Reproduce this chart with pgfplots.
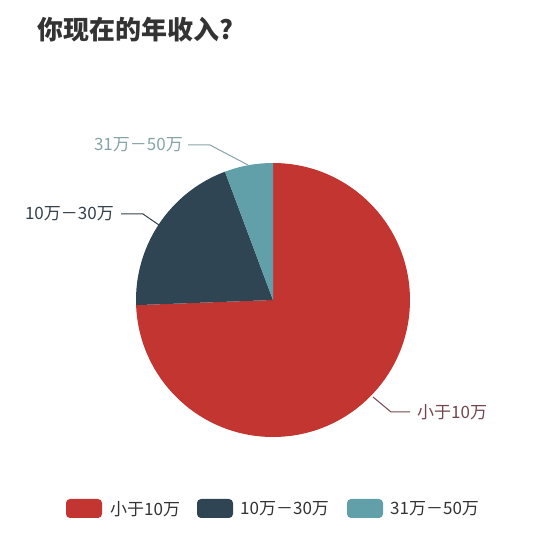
\documentclass[border=0pt]{standalone}
\usepackage{pgfplots}
\pgfplotsset{compat=1.18}
\usepackage{fontspec}
\setmainfont{Noto Sans CJK SC}
\definecolor{pieRed}{HTML}{C23531}
\definecolor{pieDark}{HTML}{2F4554}
\definecolor{pieTeal}{HTML}{61A0A8}
\definecolor{txt}{HTML}{333333}
\definecolor{lblRed}{HTML}{74464F}
\definecolor{lblDark}{HTML}{34414B}
\definecolor{lblTeal}{HTML}{86A4A7}

\begin{document}
\begin{tikzpicture}
% shares in percent, clockwise from 12 o'clock
\def\vA{74.4}  % 小于10万
\def\vB{19.9}  % 10万－30万
\def\vC{5.7}   % 31万－50万
\pgfmathsetmacro{\aA}{90-3.6*\vA}
\pgfmathsetmacro{\aB}{\aA-3.6*\vB}
\pgfmathsetmacro{\aC}{\aB-3.6*\vC}
\begin{axis}[
    width=550pt, height=536pt,
    scale only axis,
    xmin=0, xmax=550, ymin=0, ymax=536,
    axis lines=none,
    clip=false,
]
\path (axis cs:0,0) rectangle (axis cs:550,536);
% wedges
\fill[pieRed]  (axis cs:273,236) -- ++(90:137pt) arc[start angle=90, end angle=\aA, radius=137pt] -- cycle;
\fill[pieDark] (axis cs:273,236) -- ++(\aA:137pt) arc[start angle=\aA, end angle=\aB, radius=137pt] -- cycle;
\fill[pieTeal] (axis cs:273,236) -- ++(\aB:137pt) arc[start angle=\aB, end angle=\aC, radius=137pt] -- cycle;
% title
\node[anchor=west, inner sep=0pt, text=txt, font=\fontsize{26}{30}\selectfont\bfseries] at (axis cs:37,506) {你现在的年收入?};
% labels with leader lines
\draw[lblTeal, line width=1pt] (axis cs:248,371) -- (axis cs:210,391) -- (axis cs:188,391);
\node[anchor=east, inner sep=0pt, text=lblTeal, font=\fontsize{17}{19}\selectfont] at (axis cs:183,391) {31万－50万};
\draw[lblDark, line width=1pt] (axis cs:159,311) -- (axis cs:143,322) -- (axis cs:121,322);
\node[anchor=east, inner sep=0pt, text=lblDark, font=\fontsize{17}{19}\selectfont] at (axis cs:114,322) {10万－30万};
\draw[lblRed, line width=1pt] (axis cs:373,139) -- (axis cs:391,124) -- (axis cs:410,124);
\node[anchor=west, inner sep=0pt, text=lblRed, font=\fontsize{17}{19}\selectfont] at (axis cs:417,124) {小于10万};
% legend
\fill[pieRed, rounded corners=4pt]  (axis cs:66,18) rectangle (axis cs:102,37);
\node[anchor=west, inner sep=0pt, text=txt, font=\fontsize{17}{19}\selectfont] at (axis cs:110,27) {小于10万};
\fill[pieDark, rounded corners=4pt] (axis cs:197,18) rectangle (axis cs:233,37);
\node[anchor=west, inner sep=0pt, text=txt, font=\fontsize{17}{19}\selectfont] at (axis cs:240,27) {10万－30万};
\fill[pieTeal, rounded corners=4pt] (axis cs:347,18) rectangle (axis cs:383,37);
\node[anchor=west, inner sep=0pt, text=txt, font=\fontsize{17}{19}\selectfont] at (axis cs:390,27) {31万－50万};
\end{axis}
\end{tikzpicture}
\end{document}
